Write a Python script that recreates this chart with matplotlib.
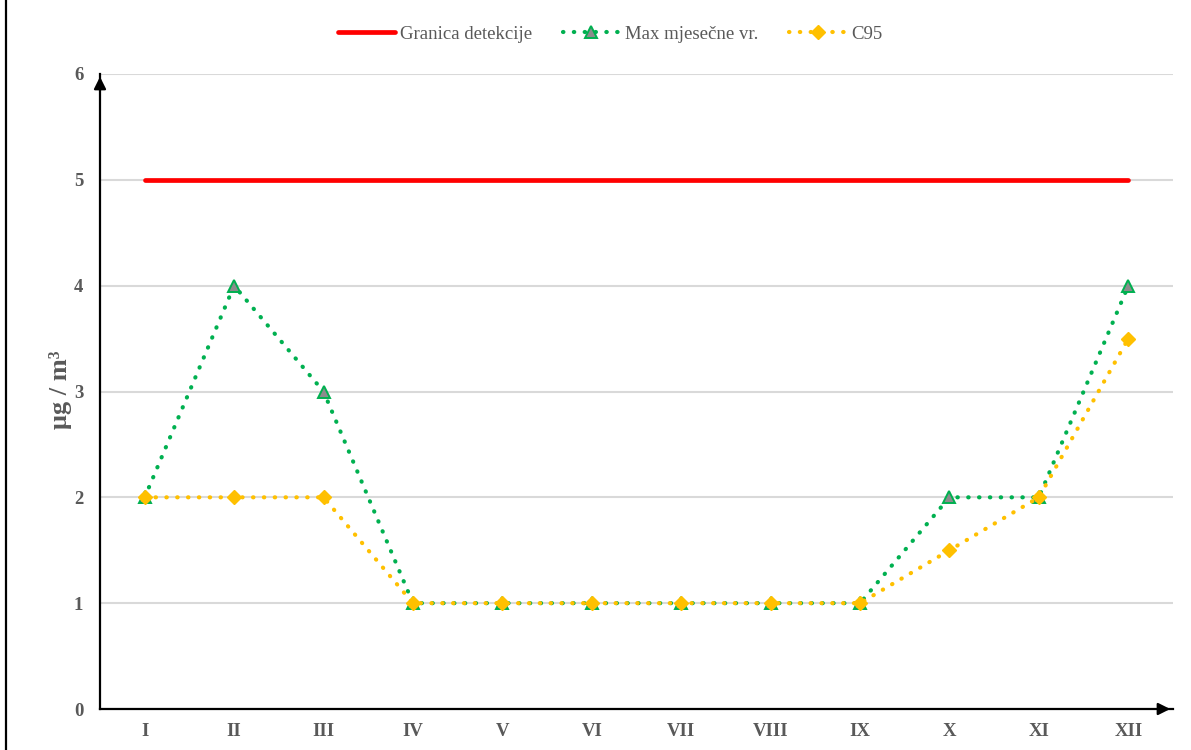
import matplotlib.pyplot as plt
from matplotlib.lines import Line2D

# Months (Roman numerals) and values in ug/m3
months = ['I', 'II', 'III', 'IV', 'V', 'VI', 'VII', 'VIII', 'IX', 'X', 'XI', 'XII']
granica = [5] * 12
max_mjesecne = [2, 4, 3, 1, 1, 1, 1, 1, 1, 2, 2, 4]
c95 = [2, 2, 2, 1, 1, 1, 1, 1, 1, 1.5, 2, 3.5]

W, H = 1191, 750
fig = plt.figure(figsize=(W / 100, H / 100), dpi=100)
ax = fig.add_axes([100 / W, 1 - 709 / H, (1173 - 100) / W, (709 - 74) / H])

serif = ['Liberation Serif', 'DejaVu Serif']
gray = '#595959'
x = list(range(len(months)))

dots = (0, (0.1, 2.5))
green_style = dict(color='#00b050', lw=3.0, linestyle=dots, dash_capstyle='round',
                   marker='^', markersize=9, markerfacecolor='#8c8c8c',
                   markeredgecolor='#00b050', markeredgewidth=1.4)
yellow_style = dict(color='#ffc000', lw=3.0, linestyle=dots, dash_capstyle='round',
                    marker='D', markersize=7.5, markerfacecolor='#ffc000',
                    markeredgecolor='#ffc000')
red_style = dict(color='#ff0000', lw=3.4, solid_capstyle='round')

ax.plot(x, granica, zorder=3, **red_style)
ax.plot(x, max_mjesecne, zorder=4, **green_style)
ax.plot(x, c95, zorder=5, **yellow_style)

ax.set_xlim(-0.5, 11.5)
ax.set_ylim(0, 6)
ax.set_yticks(range(0, 7))
ax.set_xticks(x)
ax.set_xticklabels(months)
for lab in ax.get_xticklabels() + ax.get_yticklabels():
    lab.set_family(serif)
    lab.set_fontweight('bold')
    lab.set_color(gray)
    lab.set_fontsize(13.5)
ax.tick_params(axis='both', length=0)
ax.tick_params(axis='y', pad=12)
ax.tick_params(axis='x', pad=10)

ax.yaxis.grid(True, color='#d9d9d9', lw=1.5)
ax.set_axisbelow(True)
for s in ['top', 'right']:
    ax.spines[s].set_visible(False)
for s in ['left', 'bottom']:
    ax.spines[s].set_linewidth(1.6)
    ax.spines[s].set_color('black')

# arrow heads on axes
ax.annotate('', xy=(0, 1.0), xytext=(0, 0.97), xycoords='axes fraction',
            arrowprops=dict(arrowstyle='-|>', color='black', lw=1.6, mutation_scale=18))
ax.annotate('', xy=(1.0, 0), xytext=(0.985, 0), xycoords='axes fraction',
            arrowprops=dict(arrowstyle='-|>', color='black', lw=1.6, mutation_scale=18))

fig.text(61 / W, 1 - 390 / H, 'μg / m³', rotation=90, ha='center', va='center',
         family=serif, fontweight='bold', fontsize=19, color=gray)

# left border of the chart area
fig.add_artist(Line2D([6 / W, 6 / W], [0, 1], color='black', lw=1.6))

handles = [Line2D([], [], **red_style), Line2D([], [], **green_style),
           Line2D([], [], **yellow_style)]
labels = ['Granica detekcije', 'Max mjesečne vr.', 'C95']
leg = fig.legend(handles, labels, loc='center', bbox_to_anchor=(610 / W, 1 - 34 / H),
                 ncol=3, frameon=False, handlelength=3.05, columnspacing=1.65,
                 handletextpad=0.25, prop={'family': serif, 'size': 13.5})
for t in leg.get_texts():
    t.set_color(gray)

fig.savefig('out.png', dpi=100)
